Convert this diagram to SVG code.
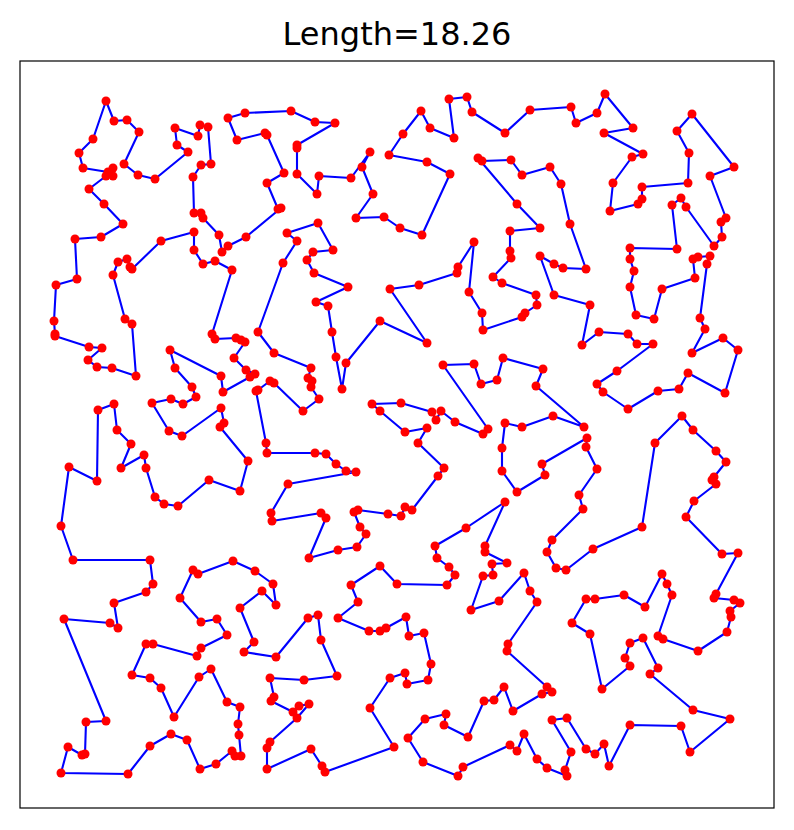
<svg xmlns="http://www.w3.org/2000/svg" xmlns:xlink="http://www.w3.org/1999/xlink" width="794" height="830" viewBox="0 0 794 830">
<style>
.tour{fill:none;stroke:#0000ff;stroke-width:2.1;stroke-linejoin:round}
.pt{fill:#ff0000}
.ttl{font-family:"DejaVu Sans",sans-serif;font-size:32px;fill:#000}
</style>
<defs><circle id="d" r="4.5"/></defs>
<rect width="794" height="830" fill="#fff"/>
<text class="ttl" x="397" y="45" text-anchor="middle">Length=18.26</text>
<rect x="20" y="61" width="754" height="747" fill="none" stroke="#000" stroke-width="1.2"/>
<g id="connectors">
<polygon id="tourpath" class="tour" points="106,101 114,121 127,120 139,132 124,164 138,175 155,179 188,152 177,145 175,128 198,136 200,125 208,127 211,164 201,165 193,177 194,213 201,213 203,218 219,235 222,252 228,246 246,237 281,208 278,209 267,183 284,173 267,135 265,133 237,140 228,118 245,113 291,111 315,122 335,123 297,145 297,148 297,174 317,194 319,176 351,178 370,152 362,167 373,194 356,218 384,217 400,228 422,235 450,174 427,162 389,155 403,134 421,111 430,128 454,138 449,99 467,97 472,112 505,133 530,110 571,107 576,123 597,113 605,94 633,128 604,133 643,154 632,157 613,183 610,211 638,204 642,199 642,187 688,183 689,153 677,131 692,114 734,167 710,176 726,218 721,222 722,237 714,246 686,207 681,198 672,205 677,249 630,248 630,259 634,271 630,287 636,315 654,319 662,289 695,278 693,259 698,257 710,256 707,264 700,318 705,329 692,353 723,338 738,350 725,393 688,373 679,389 658,391 628,409 603,392 597,384 617,371 653,344 637,344 628,334 599,332 582,345 590,305 554,295 540,256 554,264 563,268 586,269 570,224 561,184 550,167 522,175 511,160 482,161 478,158 517,204 540,228 510,231 510,251 511,258 493,277 502,283 536,295 537,305 525,313 522,317 483,330 482,313 469,292 474,242 458,267 457,273 419,285 390,289 427,343 380,321 346,363 342,389 336,357 332,332 328,306 316,302 348,287 314,273 307,260 313,252 333,250 318,223 287,233 297,241 283,263 258,332 274,353 311,368 308,378 312,381 311,387 319,399 303,411 274,383 270,381 258,390 256,391 266,443 267,453 315,453 326,454 336,464 346,471 356,472 288,484 271,513 272,521 321,513 326,518 309,558 338,550 357,547 366,534 360,527 354,512 358,510 388,514 401,516 405,507 412,510 438,476 444,468 418,443 427,428 405,432 380,411 372,404 401,403 432,412 436,420 441,411 455,422 483,434 488,429 443,365 474,364 481,384 497,380 503,358 543,369 536,386 584,427 553,416 522,427 505,423 502,448 502,471 517,492 545,475 542,464 587,438 586,447 597,469 579,495 583,509 552,540 547,552 556,568 566,570 593,549 642,527 655,443 682,416 693,430 716,451 726,462 714,477 712,480 716,484 694,501 686,517 722,554 738,553 716,594 714,598 734,600 740,603 730,611 731,617 727,632 698,651 663,639 658,636 672,595 667,584 662,574 645,607 624,595 595,599 586,599 572,623 590,634 602,689 630,666 625,658 630,643 643,638 658,668 650,674 693,710 730,719 690,752 681,726 630,725 609,766 604,744 595,754 586,749 567,718 552,720 571,752 565,770 567,776 547,768 537,759 524,734 517,751 510,745 463,767 458,776 423,762 408,738 425,719 446,714 444,725 468,737 484,701 494,700 504,687 513,711 542,694 552,692 547,687 507,651 508,644 537,602 530,591 524,573 499,601 471,610 483,576 493,575 492,564 507,563 485,552 485,546 505,502 466,528 435,546 437,558 449,567 455,575 447,585 397,584 380,566 351,585 358,602 338,618 369,631 380,631 386,628 406,617 409,636 424,633 431,664 428,680 407,684 405,673 390,678 370,708 394,747 325,772 322,766 311,749 267,769 267,748 270,742 297,718 309,704 299,706 293,712 271,701 274,697 270,678 304,680 337,676 321,640 318,615 308,618 276,657 244,652 254,642 240,608 262,591 276,605 273,584 255,571 233,561 198,574 193,570 180,598 201,622 217,619 227,635 201,648 197,656 153,644 146,644 132,675 150,678 161,688 174,717 199,677 211,669 227,702 240,707 238,724 239,735 241,756 235,756 232,751 216,764 200,769 187,740 171,734 150,746 128,774 61,773 68,747 82,755 85,754 86,722 106,721 64,619 110,623 118,628 114,603 146,592 153,584 150,560 73,560 61,526 69,467 97,481 98,410 114,404 117,430 131,444 121,468 144,455 146,468 155,497 164,504 178,506 209,480 240,491 248,461 220,427 224,423 221,408 182,436 169,431 152,403 171,399 183,404 196,397 192,387 175,368 170,350 221,376 223,392 250,377 255,374 246,370 234,358 245,342 241,340 236,338 215,339 212,334 232,270 215,261 203,264 194,250 194,232 161,241 132,269 130,267 127,259 118,262 113,275 125,319 132,324 136,376 112,368 97,367 88,360 102,348 89,347 55,336 55,334 54,321 56,285 77,279 75,239 101,237 123,224 104,204 89,189 106,176 113,176 113,168 108,172 83,168 79,153 93,139"/>
</g>
<g id="nodes" class="pt">
<use xlink:href="#d" x="106" y="101"/><use xlink:href="#d" x="114" y="121"/><use xlink:href="#d" x="127" y="120"/><use xlink:href="#d" x="139" y="132"/><use xlink:href="#d" x="124" y="164"/><use xlink:href="#d" x="138" y="175"/><use xlink:href="#d" x="155" y="179"/><use xlink:href="#d" x="188" y="152"/><use xlink:href="#d" x="177" y="145"/><use xlink:href="#d" x="175" y="128"/><use xlink:href="#d" x="198" y="136"/><use xlink:href="#d" x="200" y="125"/><use xlink:href="#d" x="208" y="127"/><use xlink:href="#d" x="211" y="164"/><use xlink:href="#d" x="201" y="165"/><use xlink:href="#d" x="193" y="177"/><use xlink:href="#d" x="194" y="213"/><use xlink:href="#d" x="201" y="213"/><use xlink:href="#d" x="203" y="218"/><use xlink:href="#d" x="219" y="235"/><use xlink:href="#d" x="222" y="252"/><use xlink:href="#d" x="228" y="246"/><use xlink:href="#d" x="246" y="237"/><use xlink:href="#d" x="281" y="208"/><use xlink:href="#d" x="278" y="209"/><use xlink:href="#d" x="267" y="183"/><use xlink:href="#d" x="284" y="173"/><use xlink:href="#d" x="267" y="135"/><use xlink:href="#d" x="265" y="133"/><use xlink:href="#d" x="237" y="140"/><use xlink:href="#d" x="228" y="118"/><use xlink:href="#d" x="245" y="113"/><use xlink:href="#d" x="291" y="111"/><use xlink:href="#d" x="315" y="122"/><use xlink:href="#d" x="335" y="123"/><use xlink:href="#d" x="297" y="145"/><use xlink:href="#d" x="297" y="148"/><use xlink:href="#d" x="297" y="174"/><use xlink:href="#d" x="317" y="194"/><use xlink:href="#d" x="319" y="176"/><use xlink:href="#d" x="351" y="178"/><use xlink:href="#d" x="370" y="152"/><use xlink:href="#d" x="362" y="167"/><use xlink:href="#d" x="373" y="194"/><use xlink:href="#d" x="356" y="218"/><use xlink:href="#d" x="384" y="217"/><use xlink:href="#d" x="400" y="228"/><use xlink:href="#d" x="422" y="235"/><use xlink:href="#d" x="450" y="174"/><use xlink:href="#d" x="427" y="162"/><use xlink:href="#d" x="389" y="155"/><use xlink:href="#d" x="403" y="134"/><use xlink:href="#d" x="421" y="111"/><use xlink:href="#d" x="430" y="128"/><use xlink:href="#d" x="454" y="138"/><use xlink:href="#d" x="449" y="99"/><use xlink:href="#d" x="467" y="97"/><use xlink:href="#d" x="472" y="112"/><use xlink:href="#d" x="505" y="133"/><use xlink:href="#d" x="530" y="110"/><use xlink:href="#d" x="571" y="107"/><use xlink:href="#d" x="576" y="123"/><use xlink:href="#d" x="597" y="113"/><use xlink:href="#d" x="605" y="94"/><use xlink:href="#d" x="633" y="128"/><use xlink:href="#d" x="604" y="133"/><use xlink:href="#d" x="643" y="154"/><use xlink:href="#d" x="632" y="157"/><use xlink:href="#d" x="613" y="183"/><use xlink:href="#d" x="610" y="211"/><use xlink:href="#d" x="638" y="204"/><use xlink:href="#d" x="642" y="199"/><use xlink:href="#d" x="642" y="187"/><use xlink:href="#d" x="688" y="183"/><use xlink:href="#d" x="689" y="153"/><use xlink:href="#d" x="677" y="131"/><use xlink:href="#d" x="692" y="114"/><use xlink:href="#d" x="734" y="167"/><use xlink:href="#d" x="710" y="176"/><use xlink:href="#d" x="726" y="218"/><use xlink:href="#d" x="721" y="222"/><use xlink:href="#d" x="722" y="237"/><use xlink:href="#d" x="714" y="246"/><use xlink:href="#d" x="686" y="207"/><use xlink:href="#d" x="681" y="198"/><use xlink:href="#d" x="672" y="205"/><use xlink:href="#d" x="677" y="249"/><use xlink:href="#d" x="630" y="248"/><use xlink:href="#d" x="630" y="259"/><use xlink:href="#d" x="634" y="271"/><use xlink:href="#d" x="630" y="287"/><use xlink:href="#d" x="636" y="315"/><use xlink:href="#d" x="654" y="319"/><use xlink:href="#d" x="662" y="289"/><use xlink:href="#d" x="695" y="278"/><use xlink:href="#d" x="693" y="259"/><use xlink:href="#d" x="698" y="257"/><use xlink:href="#d" x="710" y="256"/><use xlink:href="#d" x="707" y="264"/><use xlink:href="#d" x="700" y="318"/><use xlink:href="#d" x="705" y="329"/><use xlink:href="#d" x="692" y="353"/><use xlink:href="#d" x="723" y="338"/><use xlink:href="#d" x="738" y="350"/><use xlink:href="#d" x="725" y="393"/><use xlink:href="#d" x="688" y="373"/><use xlink:href="#d" x="679" y="389"/><use xlink:href="#d" x="658" y="391"/><use xlink:href="#d" x="628" y="409"/><use xlink:href="#d" x="603" y="392"/><use xlink:href="#d" x="597" y="384"/><use xlink:href="#d" x="617" y="371"/><use xlink:href="#d" x="653" y="344"/><use xlink:href="#d" x="637" y="344"/><use xlink:href="#d" x="628" y="334"/><use xlink:href="#d" x="599" y="332"/><use xlink:href="#d" x="582" y="345"/><use xlink:href="#d" x="590" y="305"/><use xlink:href="#d" x="554" y="295"/><use xlink:href="#d" x="540" y="256"/><use xlink:href="#d" x="554" y="264"/><use xlink:href="#d" x="563" y="268"/><use xlink:href="#d" x="586" y="269"/><use xlink:href="#d" x="570" y="224"/><use xlink:href="#d" x="561" y="184"/><use xlink:href="#d" x="550" y="167"/><use xlink:href="#d" x="522" y="175"/><use xlink:href="#d" x="511" y="160"/><use xlink:href="#d" x="482" y="161"/><use xlink:href="#d" x="478" y="158"/><use xlink:href="#d" x="517" y="204"/><use xlink:href="#d" x="540" y="228"/><use xlink:href="#d" x="510" y="231"/><use xlink:href="#d" x="510" y="251"/><use xlink:href="#d" x="511" y="258"/><use xlink:href="#d" x="493" y="277"/><use xlink:href="#d" x="502" y="283"/><use xlink:href="#d" x="536" y="295"/><use xlink:href="#d" x="537" y="305"/><use xlink:href="#d" x="525" y="313"/><use xlink:href="#d" x="522" y="317"/><use xlink:href="#d" x="483" y="330"/><use xlink:href="#d" x="482" y="313"/><use xlink:href="#d" x="469" y="292"/><use xlink:href="#d" x="474" y="242"/><use xlink:href="#d" x="458" y="267"/><use xlink:href="#d" x="457" y="273"/><use xlink:href="#d" x="419" y="285"/><use xlink:href="#d" x="390" y="289"/><use xlink:href="#d" x="427" y="343"/><use xlink:href="#d" x="380" y="321"/><use xlink:href="#d" x="346" y="363"/><use xlink:href="#d" x="342" y="389"/><use xlink:href="#d" x="336" y="357"/><use xlink:href="#d" x="332" y="332"/><use xlink:href="#d" x="328" y="306"/><use xlink:href="#d" x="316" y="302"/><use xlink:href="#d" x="348" y="287"/><use xlink:href="#d" x="314" y="273"/><use xlink:href="#d" x="307" y="260"/><use xlink:href="#d" x="313" y="252"/><use xlink:href="#d" x="333" y="250"/><use xlink:href="#d" x="318" y="223"/><use xlink:href="#d" x="287" y="233"/><use xlink:href="#d" x="297" y="241"/><use xlink:href="#d" x="283" y="263"/><use xlink:href="#d" x="258" y="332"/><use xlink:href="#d" x="274" y="353"/><use xlink:href="#d" x="311" y="368"/><use xlink:href="#d" x="308" y="378"/><use xlink:href="#d" x="312" y="381"/><use xlink:href="#d" x="311" y="387"/><use xlink:href="#d" x="319" y="399"/><use xlink:href="#d" x="303" y="411"/><use xlink:href="#d" x="274" y="383"/><use xlink:href="#d" x="270" y="381"/><use xlink:href="#d" x="258" y="390"/><use xlink:href="#d" x="256" y="391"/><use xlink:href="#d" x="266" y="443"/><use xlink:href="#d" x="267" y="453"/><use xlink:href="#d" x="315" y="453"/><use xlink:href="#d" x="326" y="454"/><use xlink:href="#d" x="336" y="464"/><use xlink:href="#d" x="346" y="471"/><use xlink:href="#d" x="356" y="472"/><use xlink:href="#d" x="288" y="484"/><use xlink:href="#d" x="271" y="513"/><use xlink:href="#d" x="272" y="521"/><use xlink:href="#d" x="321" y="513"/><use xlink:href="#d" x="326" y="518"/><use xlink:href="#d" x="309" y="558"/><use xlink:href="#d" x="338" y="550"/><use xlink:href="#d" x="357" y="547"/><use xlink:href="#d" x="366" y="534"/><use xlink:href="#d" x="360" y="527"/><use xlink:href="#d" x="354" y="512"/><use xlink:href="#d" x="358" y="510"/><use xlink:href="#d" x="388" y="514"/><use xlink:href="#d" x="401" y="516"/><use xlink:href="#d" x="405" y="507"/><use xlink:href="#d" x="412" y="510"/><use xlink:href="#d" x="438" y="476"/><use xlink:href="#d" x="444" y="468"/><use xlink:href="#d" x="418" y="443"/><use xlink:href="#d" x="427" y="428"/><use xlink:href="#d" x="405" y="432"/><use xlink:href="#d" x="380" y="411"/><use xlink:href="#d" x="372" y="404"/><use xlink:href="#d" x="401" y="403"/><use xlink:href="#d" x="432" y="412"/><use xlink:href="#d" x="436" y="420"/><use xlink:href="#d" x="441" y="411"/><use xlink:href="#d" x="455" y="422"/><use xlink:href="#d" x="483" y="434"/><use xlink:href="#d" x="488" y="429"/><use xlink:href="#d" x="443" y="365"/><use xlink:href="#d" x="474" y="364"/><use xlink:href="#d" x="481" y="384"/><use xlink:href="#d" x="497" y="380"/><use xlink:href="#d" x="503" y="358"/><use xlink:href="#d" x="543" y="369"/><use xlink:href="#d" x="536" y="386"/><use xlink:href="#d" x="584" y="427"/><use xlink:href="#d" x="553" y="416"/><use xlink:href="#d" x="522" y="427"/><use xlink:href="#d" x="505" y="423"/><use xlink:href="#d" x="502" y="448"/><use xlink:href="#d" x="502" y="471"/><use xlink:href="#d" x="517" y="492"/><use xlink:href="#d" x="545" y="475"/><use xlink:href="#d" x="542" y="464"/><use xlink:href="#d" x="587" y="438"/><use xlink:href="#d" x="586" y="447"/><use xlink:href="#d" x="597" y="469"/><use xlink:href="#d" x="579" y="495"/><use xlink:href="#d" x="583" y="509"/><use xlink:href="#d" x="552" y="540"/><use xlink:href="#d" x="547" y="552"/><use xlink:href="#d" x="556" y="568"/><use xlink:href="#d" x="566" y="570"/><use xlink:href="#d" x="593" y="549"/><use xlink:href="#d" x="642" y="527"/><use xlink:href="#d" x="655" y="443"/><use xlink:href="#d" x="682" y="416"/><use xlink:href="#d" x="693" y="430"/><use xlink:href="#d" x="716" y="451"/><use xlink:href="#d" x="726" y="462"/><use xlink:href="#d" x="714" y="477"/><use xlink:href="#d" x="712" y="480"/><use xlink:href="#d" x="716" y="484"/><use xlink:href="#d" x="694" y="501"/><use xlink:href="#d" x="686" y="517"/><use xlink:href="#d" x="722" y="554"/><use xlink:href="#d" x="738" y="553"/><use xlink:href="#d" x="716" y="594"/><use xlink:href="#d" x="714" y="598"/><use xlink:href="#d" x="734" y="600"/><use xlink:href="#d" x="740" y="603"/><use xlink:href="#d" x="730" y="611"/><use xlink:href="#d" x="731" y="617"/><use xlink:href="#d" x="727" y="632"/><use xlink:href="#d" x="698" y="651"/><use xlink:href="#d" x="663" y="639"/><use xlink:href="#d" x="658" y="636"/><use xlink:href="#d" x="672" y="595"/><use xlink:href="#d" x="667" y="584"/><use xlink:href="#d" x="662" y="574"/><use xlink:href="#d" x="645" y="607"/><use xlink:href="#d" x="624" y="595"/><use xlink:href="#d" x="595" y="599"/><use xlink:href="#d" x="586" y="599"/><use xlink:href="#d" x="572" y="623"/><use xlink:href="#d" x="590" y="634"/><use xlink:href="#d" x="602" y="689"/><use xlink:href="#d" x="630" y="666"/><use xlink:href="#d" x="625" y="658"/><use xlink:href="#d" x="630" y="643"/><use xlink:href="#d" x="643" y="638"/><use xlink:href="#d" x="658" y="668"/><use xlink:href="#d" x="650" y="674"/><use xlink:href="#d" x="693" y="710"/><use xlink:href="#d" x="730" y="719"/><use xlink:href="#d" x="690" y="752"/><use xlink:href="#d" x="681" y="726"/><use xlink:href="#d" x="630" y="725"/><use xlink:href="#d" x="609" y="766"/><use xlink:href="#d" x="604" y="744"/><use xlink:href="#d" x="595" y="754"/><use xlink:href="#d" x="586" y="749"/><use xlink:href="#d" x="567" y="718"/><use xlink:href="#d" x="552" y="720"/><use xlink:href="#d" x="571" y="752"/><use xlink:href="#d" x="565" y="770"/><use xlink:href="#d" x="567" y="776"/><use xlink:href="#d" x="547" y="768"/><use xlink:href="#d" x="537" y="759"/><use xlink:href="#d" x="524" y="734"/><use xlink:href="#d" x="517" y="751"/><use xlink:href="#d" x="510" y="745"/><use xlink:href="#d" x="463" y="767"/><use xlink:href="#d" x="458" y="776"/><use xlink:href="#d" x="423" y="762"/><use xlink:href="#d" x="408" y="738"/><use xlink:href="#d" x="425" y="719"/><use xlink:href="#d" x="446" y="714"/><use xlink:href="#d" x="444" y="725"/><use xlink:href="#d" x="468" y="737"/><use xlink:href="#d" x="484" y="701"/><use xlink:href="#d" x="494" y="700"/><use xlink:href="#d" x="504" y="687"/><use xlink:href="#d" x="513" y="711"/><use xlink:href="#d" x="542" y="694"/><use xlink:href="#d" x="552" y="692"/><use xlink:href="#d" x="547" y="687"/><use xlink:href="#d" x="507" y="651"/><use xlink:href="#d" x="508" y="644"/><use xlink:href="#d" x="537" y="602"/><use xlink:href="#d" x="530" y="591"/><use xlink:href="#d" x="524" y="573"/><use xlink:href="#d" x="499" y="601"/><use xlink:href="#d" x="471" y="610"/><use xlink:href="#d" x="483" y="576"/><use xlink:href="#d" x="493" y="575"/><use xlink:href="#d" x="492" y="564"/><use xlink:href="#d" x="507" y="563"/><use xlink:href="#d" x="485" y="552"/><use xlink:href="#d" x="485" y="546"/><use xlink:href="#d" x="505" y="502"/><use xlink:href="#d" x="466" y="528"/><use xlink:href="#d" x="435" y="546"/><use xlink:href="#d" x="437" y="558"/><use xlink:href="#d" x="449" y="567"/><use xlink:href="#d" x="455" y="575"/><use xlink:href="#d" x="447" y="585"/><use xlink:href="#d" x="397" y="584"/><use xlink:href="#d" x="380" y="566"/><use xlink:href="#d" x="351" y="585"/><use xlink:href="#d" x="358" y="602"/><use xlink:href="#d" x="338" y="618"/><use xlink:href="#d" x="369" y="631"/><use xlink:href="#d" x="380" y="631"/><use xlink:href="#d" x="386" y="628"/><use xlink:href="#d" x="406" y="617"/><use xlink:href="#d" x="409" y="636"/><use xlink:href="#d" x="424" y="633"/><use xlink:href="#d" x="431" y="664"/><use xlink:href="#d" x="428" y="680"/><use xlink:href="#d" x="407" y="684"/><use xlink:href="#d" x="405" y="673"/><use xlink:href="#d" x="390" y="678"/><use xlink:href="#d" x="370" y="708"/><use xlink:href="#d" x="394" y="747"/><use xlink:href="#d" x="325" y="772"/><use xlink:href="#d" x="322" y="766"/><use xlink:href="#d" x="311" y="749"/><use xlink:href="#d" x="267" y="769"/><use xlink:href="#d" x="267" y="748"/><use xlink:href="#d" x="270" y="742"/><use xlink:href="#d" x="297" y="718"/><use xlink:href="#d" x="309" y="704"/><use xlink:href="#d" x="299" y="706"/><use xlink:href="#d" x="293" y="712"/><use xlink:href="#d" x="271" y="701"/><use xlink:href="#d" x="274" y="697"/><use xlink:href="#d" x="270" y="678"/><use xlink:href="#d" x="304" y="680"/><use xlink:href="#d" x="337" y="676"/><use xlink:href="#d" x="321" y="640"/><use xlink:href="#d" x="318" y="615"/><use xlink:href="#d" x="308" y="618"/><use xlink:href="#d" x="276" y="657"/><use xlink:href="#d" x="244" y="652"/><use xlink:href="#d" x="254" y="642"/><use xlink:href="#d" x="240" y="608"/><use xlink:href="#d" x="262" y="591"/><use xlink:href="#d" x="276" y="605"/><use xlink:href="#d" x="273" y="584"/><use xlink:href="#d" x="255" y="571"/><use xlink:href="#d" x="233" y="561"/><use xlink:href="#d" x="198" y="574"/><use xlink:href="#d" x="193" y="570"/><use xlink:href="#d" x="180" y="598"/><use xlink:href="#d" x="201" y="622"/><use xlink:href="#d" x="217" y="619"/><use xlink:href="#d" x="227" y="635"/><use xlink:href="#d" x="201" y="648"/><use xlink:href="#d" x="197" y="656"/><use xlink:href="#d" x="153" y="644"/><use xlink:href="#d" x="146" y="644"/><use xlink:href="#d" x="132" y="675"/><use xlink:href="#d" x="150" y="678"/><use xlink:href="#d" x="161" y="688"/><use xlink:href="#d" x="174" y="717"/><use xlink:href="#d" x="199" y="677"/><use xlink:href="#d" x="211" y="669"/><use xlink:href="#d" x="227" y="702"/><use xlink:href="#d" x="240" y="707"/><use xlink:href="#d" x="238" y="724"/><use xlink:href="#d" x="239" y="735"/><use xlink:href="#d" x="241" y="756"/><use xlink:href="#d" x="235" y="756"/><use xlink:href="#d" x="232" y="751"/><use xlink:href="#d" x="216" y="764"/><use xlink:href="#d" x="200" y="769"/><use xlink:href="#d" x="187" y="740"/><use xlink:href="#d" x="171" y="734"/><use xlink:href="#d" x="150" y="746"/><use xlink:href="#d" x="128" y="774"/><use xlink:href="#d" x="61" y="773"/><use xlink:href="#d" x="68" y="747"/><use xlink:href="#d" x="82" y="755"/><use xlink:href="#d" x="85" y="754"/><use xlink:href="#d" x="86" y="722"/><use xlink:href="#d" x="106" y="721"/><use xlink:href="#d" x="64" y="619"/><use xlink:href="#d" x="110" y="623"/><use xlink:href="#d" x="118" y="628"/><use xlink:href="#d" x="114" y="603"/><use xlink:href="#d" x="146" y="592"/><use xlink:href="#d" x="153" y="584"/><use xlink:href="#d" x="150" y="560"/><use xlink:href="#d" x="73" y="560"/><use xlink:href="#d" x="61" y="526"/><use xlink:href="#d" x="69" y="467"/><use xlink:href="#d" x="97" y="481"/><use xlink:href="#d" x="98" y="410"/><use xlink:href="#d" x="114" y="404"/><use xlink:href="#d" x="117" y="430"/><use xlink:href="#d" x="131" y="444"/><use xlink:href="#d" x="121" y="468"/><use xlink:href="#d" x="144" y="455"/><use xlink:href="#d" x="146" y="468"/><use xlink:href="#d" x="155" y="497"/><use xlink:href="#d" x="164" y="504"/><use xlink:href="#d" x="178" y="506"/><use xlink:href="#d" x="209" y="480"/><use xlink:href="#d" x="240" y="491"/><use xlink:href="#d" x="248" y="461"/><use xlink:href="#d" x="220" y="427"/><use xlink:href="#d" x="224" y="423"/><use xlink:href="#d" x="221" y="408"/><use xlink:href="#d" x="182" y="436"/><use xlink:href="#d" x="169" y="431"/><use xlink:href="#d" x="152" y="403"/><use xlink:href="#d" x="171" y="399"/><use xlink:href="#d" x="183" y="404"/><use xlink:href="#d" x="196" y="397"/><use xlink:href="#d" x="192" y="387"/><use xlink:href="#d" x="175" y="368"/><use xlink:href="#d" x="170" y="350"/><use xlink:href="#d" x="221" y="376"/><use xlink:href="#d" x="223" y="392"/><use xlink:href="#d" x="250" y="377"/><use xlink:href="#d" x="255" y="374"/><use xlink:href="#d" x="246" y="370"/><use xlink:href="#d" x="234" y="358"/><use xlink:href="#d" x="245" y="342"/><use xlink:href="#d" x="241" y="340"/><use xlink:href="#d" x="236" y="338"/><use xlink:href="#d" x="215" y="339"/><use xlink:href="#d" x="212" y="334"/><use xlink:href="#d" x="232" y="270"/><use xlink:href="#d" x="215" y="261"/><use xlink:href="#d" x="203" y="264"/><use xlink:href="#d" x="194" y="250"/><use xlink:href="#d" x="194" y="232"/><use xlink:href="#d" x="161" y="241"/><use xlink:href="#d" x="132" y="269"/><use xlink:href="#d" x="130" y="267"/><use xlink:href="#d" x="127" y="259"/><use xlink:href="#d" x="118" y="262"/><use xlink:href="#d" x="113" y="275"/><use xlink:href="#d" x="125" y="319"/><use xlink:href="#d" x="132" y="324"/><use xlink:href="#d" x="136" y="376"/><use xlink:href="#d" x="112" y="368"/><use xlink:href="#d" x="97" y="367"/><use xlink:href="#d" x="88" y="360"/><use xlink:href="#d" x="102" y="348"/><use xlink:href="#d" x="89" y="347"/><use xlink:href="#d" x="55" y="336"/><use xlink:href="#d" x="55" y="334"/><use xlink:href="#d" x="54" y="321"/><use xlink:href="#d" x="56" y="285"/><use xlink:href="#d" x="77" y="279"/><use xlink:href="#d" x="75" y="239"/><use xlink:href="#d" x="101" y="237"/><use xlink:href="#d" x="123" y="224"/><use xlink:href="#d" x="104" y="204"/><use xlink:href="#d" x="89" y="189"/><use xlink:href="#d" x="106" y="176"/><use xlink:href="#d" x="113" y="176"/><use xlink:href="#d" x="113" y="168"/><use xlink:href="#d" x="108" y="172"/><use xlink:href="#d" x="83" y="168"/><use xlink:href="#d" x="79" y="153"/><use xlink:href="#d" x="93" y="139"/>
</g>
</svg>
